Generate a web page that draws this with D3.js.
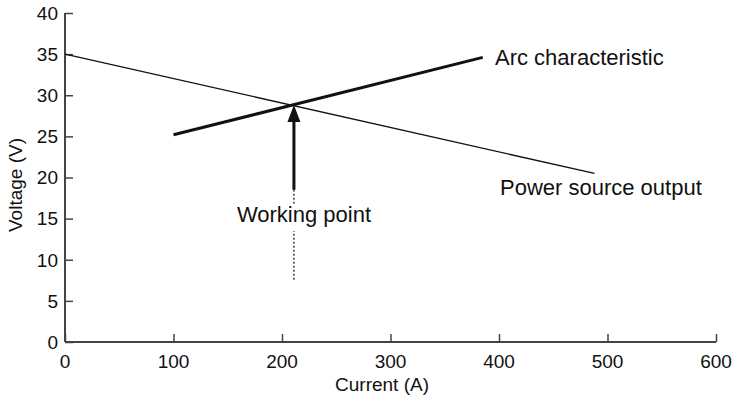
<!DOCTYPE html>
<html>
<head>
<meta charset="utf-8">
<script src="https://cdn.jsdelivr.net/npm/d3@7"></script>
<style>
  html, body { margin: 0; padding: 0; background: #fff; }
  svg { display: block; font-family: "Liberation Sans", Arial, Helvetica, sans-serif; }
</style>
</head>
<body>
<svg id="chart" width="735" height="397"></svg>
<script>
// ---- data ----
const currentTicks = [0, 100, 200, 300, 400, 500, 600];
const voltageTicks = [0, 5, 10, 15, 20, 25, 30, 35, 40];
const powerSourceCurrent = [0, 488];
const powerSourceVoltage = [35, 20.5];
const arcCurrent = [100, 385];
const arcVoltage = [25.2, 34.6];
const workingPointCurrent = 211;
const workingPointVoltage = 28.8;
const arrowStartVoltage = 18.5;
const dottedEndVoltage = 7.5;
const labels = ["Arc characteristic", "Power source output", "Working point"];
const xTitle = "Current (A)";
const yTitle = "Voltage (V)";

// ---- layout ----
const svg = d3.select("#chart");
const x = d3.scaleLinear().domain([0, 600]).range([65, 716]);
const y = d3.scaleLinear().domain([0, 40]).range([342, 13]);
const axisColor = "#444";

// axes
const xAxis = svg.append("g").attr("transform", `translate(0,${y(0)})`)
  .call(d3.axisTop(x).tickValues(currentTicks).tickSize(8).tickFormat(""));
const yAxis = svg.append("g").attr("transform", `translate(${x(0)},0)`)
  .call(d3.axisRight(y).tickValues(voltageTicks).tickSize(8).tickFormat(""));
[xAxis, yAxis].forEach(g => {
  g.select(".domain").attr("stroke", axisColor).attr("stroke-width", 2);
  g.selectAll(".tick line").attr("stroke", axisColor).attr("stroke-width", 1.5);
});
xAxis.select(".domain").attr("d", `M${x(0)},0H${x(600)}`);
yAxis.select(".domain").attr("d", `M0,${y(0)}V${y(40)}`);

// tick labels
svg.append("g").selectAll("text").data(currentTicks).join("text")
  .attr("x", d => x(d)).attr("y", 368)
  .attr("text-anchor", "middle").attr("font-size", 19).attr("fill", "#111")
  .text(d => d);
svg.append("g").selectAll("text").data(voltageTicks).join("text")
  .attr("x", 58).attr("y", d => y(d)).attr("dy", "0.36em")
  .attr("text-anchor", "end").attr("font-size", 19).attr("fill", "#111")
  .text(d => d);

// axis titles
svg.append("text").attr("x", 382).attr("y", 391).attr("text-anchor", "middle")
  .attr("font-size", 19).attr("fill", "#111").text(xTitle);
svg.append("text").attr("transform", `translate(22,185) rotate(-90)`)
  .attr("text-anchor", "middle").attr("font-size", 19).attr("fill", "#111").text(yTitle);

const line = d3.line().x(d => x(d[0])).y(d => y(d[1]));

// power source output
svg.append("path").datum(d3.zip(powerSourceCurrent, powerSourceVoltage))
  .attr("d", line).attr("fill", "none").attr("stroke", "#111").attr("stroke-width", 1.4);

// arc characteristic
svg.append("path").datum(d3.zip(arcCurrent, arcVoltage))
  .attr("d", line).attr("fill", "none").attr("stroke", "#111").attr("stroke-width", 3);

// dotted guide
svg.append("path").datum([[workingPointCurrent, arrowStartVoltage], [workingPointCurrent, dottedEndVoltage]])
  .attr("d", line).attr("fill", "none").attr("stroke", "#111").attr("stroke-width", 1.2)
  .attr("stroke-dasharray", "2,2");

// arrow shaft
const tipY = y(workingPointVoltage);
const headLen = 17, headHalf = 6.5;
svg.append("path").datum([[workingPointCurrent, arrowStartVoltage], [workingPointCurrent, y.invert(tipY + headLen - 2)]])
  .attr("d", line).attr("fill", "none").attr("stroke", "#111").attr("stroke-width", 3);
const ax = x(workingPointCurrent);
svg.append("path")
  .attr("d", `M${ax},${tipY}L${ax - headHalf},${tipY + headLen}L${ax + headHalf},${tipY + headLen}Z`)
  .attr("fill", "#111");

// annotations
svg.append("text").attr("x", 495).attr("y", y(arcVoltage[1])).attr("dy", "0.34em")
  .attr("font-size", 22).attr("fill", "#111").text(labels[0]);
svg.append("text").attr("x", 500).attr("y", 195)
  .attr("font-size", 22).attr("fill", "#111").text(labels[1]);

const wp = svg.append("g");
const wpText = wp.append("text").attr("x", 304).attr("y", 222).attr("text-anchor", "middle")
  .attr("font-size", 22).attr("fill", "#111").text(labels[2]);
const bb = wpText.node().getBBox();
wp.insert("rect", "text").attr("x", bb.x - 2).attr("y", bb.y + 2).attr("width", bb.width + 4)
  .attr("height", bb.height + 2).attr("fill", "#fff");
</script>
</body>
</html>
